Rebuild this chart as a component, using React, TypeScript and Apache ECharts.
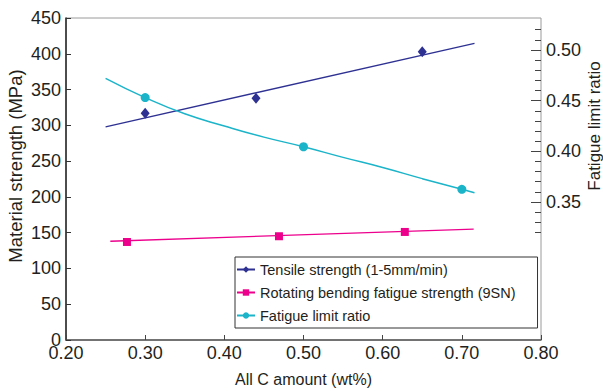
import React, { useEffect, useRef } from "react";
import * as echarts from "echarts";

const xTicks = [0.2, 0.3, 0.4, 0.5, 0.6, 0.7, 0.8];
const strengthTicks = [0, 50, 100, 150, 200, 250, 300, 350, 400, 450];
const ratioTickLabels = [0.35, 0.4, 0.45, 0.5];

const tensilePoints = [
  [0.3, 317],
  [0.44, 338],
  [0.65, 403],
];
const tensileTrend = [
  [0.25, 298],
  [0.716, 414.5],
];

const fatiguePoints = [
  [0.277, 137],
  [0.469, 145],
  [0.628, 151],
];
const fatigueTrend = [
  [0.256, 138],
  [0.715, 155],
];

const ratioPoints = [
  [0.3, 0.453],
  [0.5, 0.4045],
  [0.7, 0.3625],
];
const ratioTrend = [
  [0.25, 0.472],
  [0.3, 0.453],
  [0.35, 0.437],
  [0.4, 0.425],
  [0.45, 0.414],
  [0.5, 0.4045],
  [0.55, 0.394],
  [0.6, 0.384],
  [0.65, 0.373],
  [0.7, 0.3625],
  [0.716, 0.359],
];

const NAVY = "#2E3192";
const PINK = "#EC008C";
const CYAN = "#1BB4C9";
const TEXT = "#231F20";
const FONT = "Liberation Sans, Arial, sans-serif";

const names = [
  "Tensile strength (1-5mm/min)",
  "Rotating bending fatigue strength (9SN)",
  "Fatigue limit ratio",
];

export default function App() {
  const ref = useRef<HTMLDivElement>(null);
  useEffect(() => {
    if (!ref.current) return;
    const chart = echarts.init(ref.current, undefined, { renderer: "svg" });
    const hiddenX = (gridIndex: number) => ({
      type: "value" as const,
      gridIndex,
      min: 0.2,
      max: 0.8,
      interval: 0.1,
      axisLine: { show: false },
      axisTick: { show: false },
      axisLabel: { show: false },
      splitLine: { show: false },
    });
    const pxPer001 = 10.13;
    const GL = 66;
    const GW = 475;
    const common = { left: GL, width: GW, containLabel: false, outerBoundsMode: "none" };
    chart.setOption({
      animation: false,
      textStyle: { fontFamily: FONT },
      grid: [
        { ...common, top: 18, height: 322, show: true, borderColor: "#9a9a9a", borderWidth: 1 },
        { ...common, top: 50 - 2 * pxPer001, height: 20 * pxPer001 },
        { ...common, top: 50, height: 15 * pxPer001 },
      ],
      legend: {
        orient: "vertical",
        left: 235,
        top: 257,
        data: names,
        borderColor: "#333",
        borderWidth: 1,
        padding: [5, 22, 5, 1],
        itemWidth: 18,
        itemHeight: 8,
        itemGap: 8,
        textStyle: { fontSize: 14.5, color: TEXT, fontFamily: FONT },
      },
      xAxis: [
        {
          type: "value",
          gridIndex: 0,
          min: 0.2,
          max: 0.8,
          interval: 0.1,
          name: "All C amount (wt%)",
          nameLocation: "middle",
          nameGap: 31,
          nameMoveOverlap: false,
          nameTextStyle: { fontSize: 16, color: TEXT, fontFamily: FONT },
          axisLine: { lineStyle: { color: "#555", width: 1.5 } },
          axisTick: { inside: true, length: 5, lineStyle: { color: "#444" } },
          axisLabel: {
            fontSize: 18,
            color: TEXT,
            margin: 4,
            formatter: (v: number) => xTicks.find((t) => Math.abs(t - v) < 1e-6)?.toFixed(2) ?? "",
          },
          splitLine: { show: false },
        },
        hiddenX(1),
        hiddenX(2),
      ],
      yAxis: [
        {
          type: "value",
          gridIndex: 0,
          min: 0,
          max: 450,
          interval: 50,
          name: "Material strength (MPa)",
          nameLocation: "middle",
          nameGap: 41,
          nameMoveOverlap: false,
          nameTextStyle: { fontSize: 18.5, color: TEXT, fontFamily: FONT, padding: [0, 0, 0, 26] },
          axisLine: { show: true, lineStyle: { color: "#222", width: 1.5 } },
          axisTick: { show: true, inside: true, length: 5, lineStyle: { color: "#333" } },
          axisLabel: {
            fontSize: 18,
            color: TEXT,
            margin: 5,
            formatter: (v: number) => (strengthTicks.includes(Math.round(v)) ? String(Math.round(v)) : ""),
          },
          splitLine: { show: false },
        },
        {
          type: "value",
          gridIndex: 1,
          position: "right",
          min: 0.32,
          max: 0.52,
          interval: 0.01,
          axisLine: { show: false },
          axisTick: { show: true, inside: true, length: 6, lineStyle: { color: "#444" } },
          axisLabel: { show: false },
          splitLine: { show: false },
        },
        {
          type: "value",
          gridIndex: 2,
          position: "right",
          min: 0.35,
          max: 0.5,
          interval: 0.05,
          name: "Fatigue limit ratio",
          nameLocation: "middle",
          nameRotate: 90,
          nameGap: 45,
          nameMoveOverlap: false,
          nameTextStyle: { fontSize: 17, color: TEXT, fontFamily: FONT },
          axisLine: { show: false },
          axisTick: { show: true, inside: true, length: 10, lineStyle: { color: "#444" } },
          axisLabel: {
            fontSize: 18,
            color: TEXT,
            margin: 5,
            formatter: (v: number) =>
              ratioTickLabels.find((t) => Math.abs(t - v) < 1e-6)?.toFixed(2) ?? "",
          },
          splitLine: { show: false },
        },
      ],
      series: [
        {
          name: names[0],
          type: "line",
          xAxisIndex: 0,
          yAxisIndex: 0,
          data: tensileTrend,
          symbol: "diamond",
          symbolSize: 10,
          showSymbol: false,
          itemStyle: { color: NAVY },
          lineStyle: { color: NAVY, width: 1.3 },
        },
        {
          name: names[0],
          type: "scatter",
          xAxisIndex: 0,
          yAxisIndex: 0,
          data: tensilePoints,
          symbol: "diamond",
          symbolSize: [9, 11],
          itemStyle: { color: NAVY, opacity: 1 },
        },
        {
          name: names[1],
          type: "line",
          xAxisIndex: 0,
          yAxisIndex: 0,
          data: fatigueTrend,
          symbol: "rect",
          symbolSize: 8,
          showSymbol: false,
          itemStyle: { color: PINK },
          lineStyle: { color: PINK, width: 1.3 },
        },
        {
          name: names[1],
          type: "scatter",
          xAxisIndex: 0,
          yAxisIndex: 0,
          data: fatiguePoints,
          symbol: "rect",
          symbolSize: 8,
          itemStyle: { color: PINK, opacity: 1 },
        },
        {
          name: names[2],
          type: "line",
          xAxisIndex: 2,
          yAxisIndex: 2,
          data: ratioTrend,
          smooth: true,
          clip: false,
          symbol: "circle",
          symbolSize: 9,
          showSymbol: false,
          itemStyle: { color: CYAN },
          lineStyle: { color: CYAN, width: 1.5 },
        },
        {
          name: names[2],
          type: "scatter",
          xAxisIndex: 2,
          yAxisIndex: 2,
          data: ratioPoints,
          clip: false,
          symbol: "circle",
          symbolSize: 9,
          itemStyle: { color: CYAN, opacity: 1 },
        },
      ],
    });
    return () => chart.dispose();
  }, []);
  return <div ref={ref} style={{ width: 603, height: 391, position: "absolute", left: 0, top: 0 }} />;
}
